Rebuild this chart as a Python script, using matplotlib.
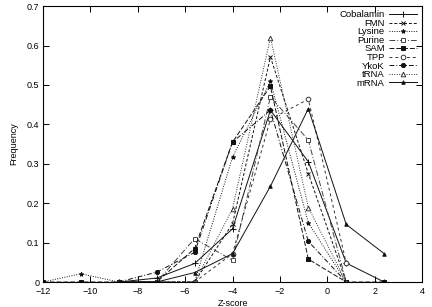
import numpy as np
import matplotlib
matplotlib.use('Agg')
import matplotlib.pyplot as plt

plt.rcParams['font.family'] = ['Liberation Sans', 'DejaVu Sans']

nan = np.nan
zscore = [-12, -10.4, -8.8, -7.2, -5.6, -4.0, -2.4, -0.8, 0.8, 2.4]

cobalamin = [nan, nan, 0, 0.01, 0.047, 0.135, 0.436, 0.305, 0.048, 0]
fmn = [nan, nan, 0, 0, 0, 0.148, 0.571, 0.275, 0, nan]
lysine = [0, 0.021, 0, 0, 0, 0.317, 0.509, 0.15, 0, nan]
purine = [nan, nan, 0, 0, 0.11, 0.055, 0.47, 0.36, 0, nan]
sam = [0, 0, 0, 0, 0.085, 0.355, 0.497, 0.058, 0, 0]
tpp = [nan, nan, 0, 0, 0, 0.072, 0.413, 0.464, 0.048, nan]
ykok = [nan, nan, 0, 0.025, 0.075, 0.355, 0.436, 0.103, 0, nan]
trna = [nan, nan, 0, 0, 0, 0.186, 0.62, 0.189, 0, nan]
mrna = [nan, nan, 0, 0, 0.024, 0.072, 0.243, 0.44, 0.146, 0.072]

series = [
    ('Cobalamin', cobalamin, '-', '+', '#111111', '#111111', 4),
    ('FMN', fmn, (0, (3, 2)), 'x', '#111111', '#111111', 3.2),
    ('Lysine', lysine, (0, (1, 1.5)), '*', '#111111', '#111111', 3.2),
    ('Purine', purine, (0, (6, 2, 1, 2)), 's', '#444444', 'white', 3.3),
    ('SAM', sam, (0, (5, 2)), 's', '#111111', '#111111', 3.3),
    ('TPP', tpp, (0, (3, 3)), 'o', '#333333', 'white', 3.3),
    ('YkoK', ykok, (0, (5, 2, 1, 2)), 'o', '#111111', '#111111', 3.0),
    ('tRNA', trna, (0, (1, 1.5)), '^', '#333333', 'white', 3.3),
    ('mRNA', mrna, '-', '^', '#111111', '#111111', 2.5),
]

fig = plt.figure(figsize=(4.32, 3.07), dpi=100)
ax = fig.add_axes([0.0995, 0.0814, 0.8775, 0.8986])

for name, vals, ls, mk, col, face, ms in series:
    ax.plot(zscore, vals, linestyle=ls, marker=mk, color=col, mfc=face, mec=col,
            ms=ms, lw=0.7, mew=0.7, label=name)

ax.set_xlim(-12, 4)
ax.set_ylim(0, 0.7)
ax.set_xticks(np.arange(-12, 5, 2))
ax.set_yticks(np.arange(0, 0.71, 0.1))
ax.set_yticklabels(['0', '0.1', '0.2', '0.3', '0.4', '0.5', '0.6', '0.7'])
ax.tick_params(direction='in', top=True, right=True, labelsize=6.5, length=4, width=0.7)
ax.tick_params(axis='x', pad=3.5)
ax.tick_params(axis='y', pad=2.5)
for s in ax.spines.values():
    s.set_linewidth(0.8)
ax.set_xlabel('Z-score', fontsize=6.5, labelpad=2)
ax.set_ylabel('Frequency', fontsize=6.5, labelpad=6)

# markerfirst=False right-aligns the labels next to the samples, as gnuplot does
ax.legend(loc='upper right', frameon=False, fontsize=6.8, markerfirst=False,
          handlelength=3.0, labelspacing=-0.05, handletextpad=0.45,
          borderaxespad=0.0, borderpad=0.3, bbox_to_anchor=(0.995, 0.995))

fig.savefig('out.png', dpi=100)
